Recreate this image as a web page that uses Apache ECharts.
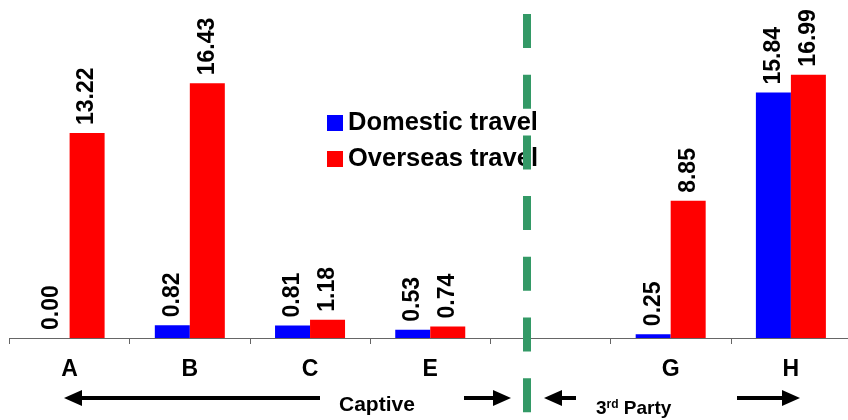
<!DOCTYPE html>
<html>
<head>
<meta charset="utf-8">
<script src="https://cdn.jsdelivr.net/npm/echarts@6/dist/echarts.min.js"></script>
<style>html,body{margin:0;padding:0;background:#fff}#c{width:848px;height:420px}</style>
</head>
<body>
<div id="c"></div>
<script>
var categories = ['A', 'B', 'C', 'E', '', 'G', 'H'];
var domestic = [0.00, 0.82, 0.81, 0.53, null, 0.25, 15.84];
var overseas = [13.22, 16.43, 1.18, 0.74, null, 8.85, 16.99];
var seriesNames = ['Domestic travel', 'Overseas travel'];

var FONT = '"Liberation Sans", Arial, sans-serif';
var chart = echarts.init(document.getElementById('c'), null, {renderer: 'canvas'});

var labelCfg = {
  show: true, position: 'top', rotate: 90, align: 'left', verticalAlign: 'middle',
  distance: 8, fontSize: 23, fontWeight: 'bold', color: '#000', fontFamily: FONT,
  formatter: function (p) { return p.value.toFixed(2); }
};

function arrow(x1, x2, y) {
  var dir = x2 > x1 ? 1 : -1;
  var hl = 18, hh = 8;
  return [
    {type: 'line', z: 100, shape: {x1: x1, y1: y, x2: x2 - dir * hl, y2: y},
     style: {stroke: '#000', lineWidth: 4}},
    {type: 'polygon', z: 100, shape: {points: [[x2, y], [x2 - dir * hl, y - hh], [x2 - dir * hl, y + hh]]},
     style: {fill: '#000'}}
  ];
}

var graphics = [
  {type: 'line', z: 100, shape: {x1: 527, y1: 14, x2: 527, y2: 420},
   style: {stroke: '#339966', lineWidth: 8, lineDash: [34, 26.7], lineCap: 'butt'}},
  {type: 'text', z: 100, x: 339, y: 405,
   style: {text: 'Captive', fill: '#000', fontSize: 21, fontWeight: 'bold', fontFamily: FONT, textVerticalAlign: 'middle'}},
  {type: 'text', z: 100, x: 596, y: 409,
   style: {text: '{a|3}{b|rd}{a| Party}', fill: '#000', fontFamily: FONT, textVerticalAlign: 'middle',
     rich: {a: {fontSize: 19, fontWeight: 'bold', fontFamily: FONT, color: '#000'},
            b: {fontSize: 12, fontWeight: 'bold', fontFamily: FONT, color: '#000', padding: [0, 0, 8, 0]}}}}
].concat(arrow(320, 64, 398), arrow(464, 511, 398), arrow(576, 544, 398), arrow(737, 800, 398));

chart.setOption({
  animation: false,
  backgroundColor: '#fff',
  grid: {left: 9.5, width: 841.5, top: 28, height: 310, containLabel: false, outerBoundsMode: 'none'},
  legend: {
    orient: 'vertical', left: 322, top: 105, itemWidth: 16, itemHeight: 16, itemGap: 10,
    icon: 'rect', data: seriesNames,
    textStyle: {fontSize: 25.5, fontWeight: 'bold', color: '#000', fontFamily: FONT, lineHeight: 26}
  },
  xAxis: {
    type: 'category', data: categories, boundaryGap: true,
    axisLine: {lineStyle: {color: '#666', width: 1}},
    axisTick: {show: true, length: 6, lineStyle: {color: '#666'}},
    axisLabel: {fontSize: 23, fontWeight: 'bold', color: '#000', fontFamily: FONT, margin: 20, interval: 0}
  },
  yAxis: {type: 'value', min: 0, max: 20, show: false, splitLine: {show: false}},
  series: [
    {name: seriesNames[0], type: 'bar', data: domestic, barWidth: 35, barGap: '0%',
     itemStyle: {color: '#0000FF'}, label: labelCfg},
    {name: seriesNames[1], type: 'bar', data: overseas, barWidth: 35, barGap: '0%',
     itemStyle: {color: '#FF0000'}, label: labelCfg}
  ],
  graphic: graphics
});
</script>
</body>
</html>
